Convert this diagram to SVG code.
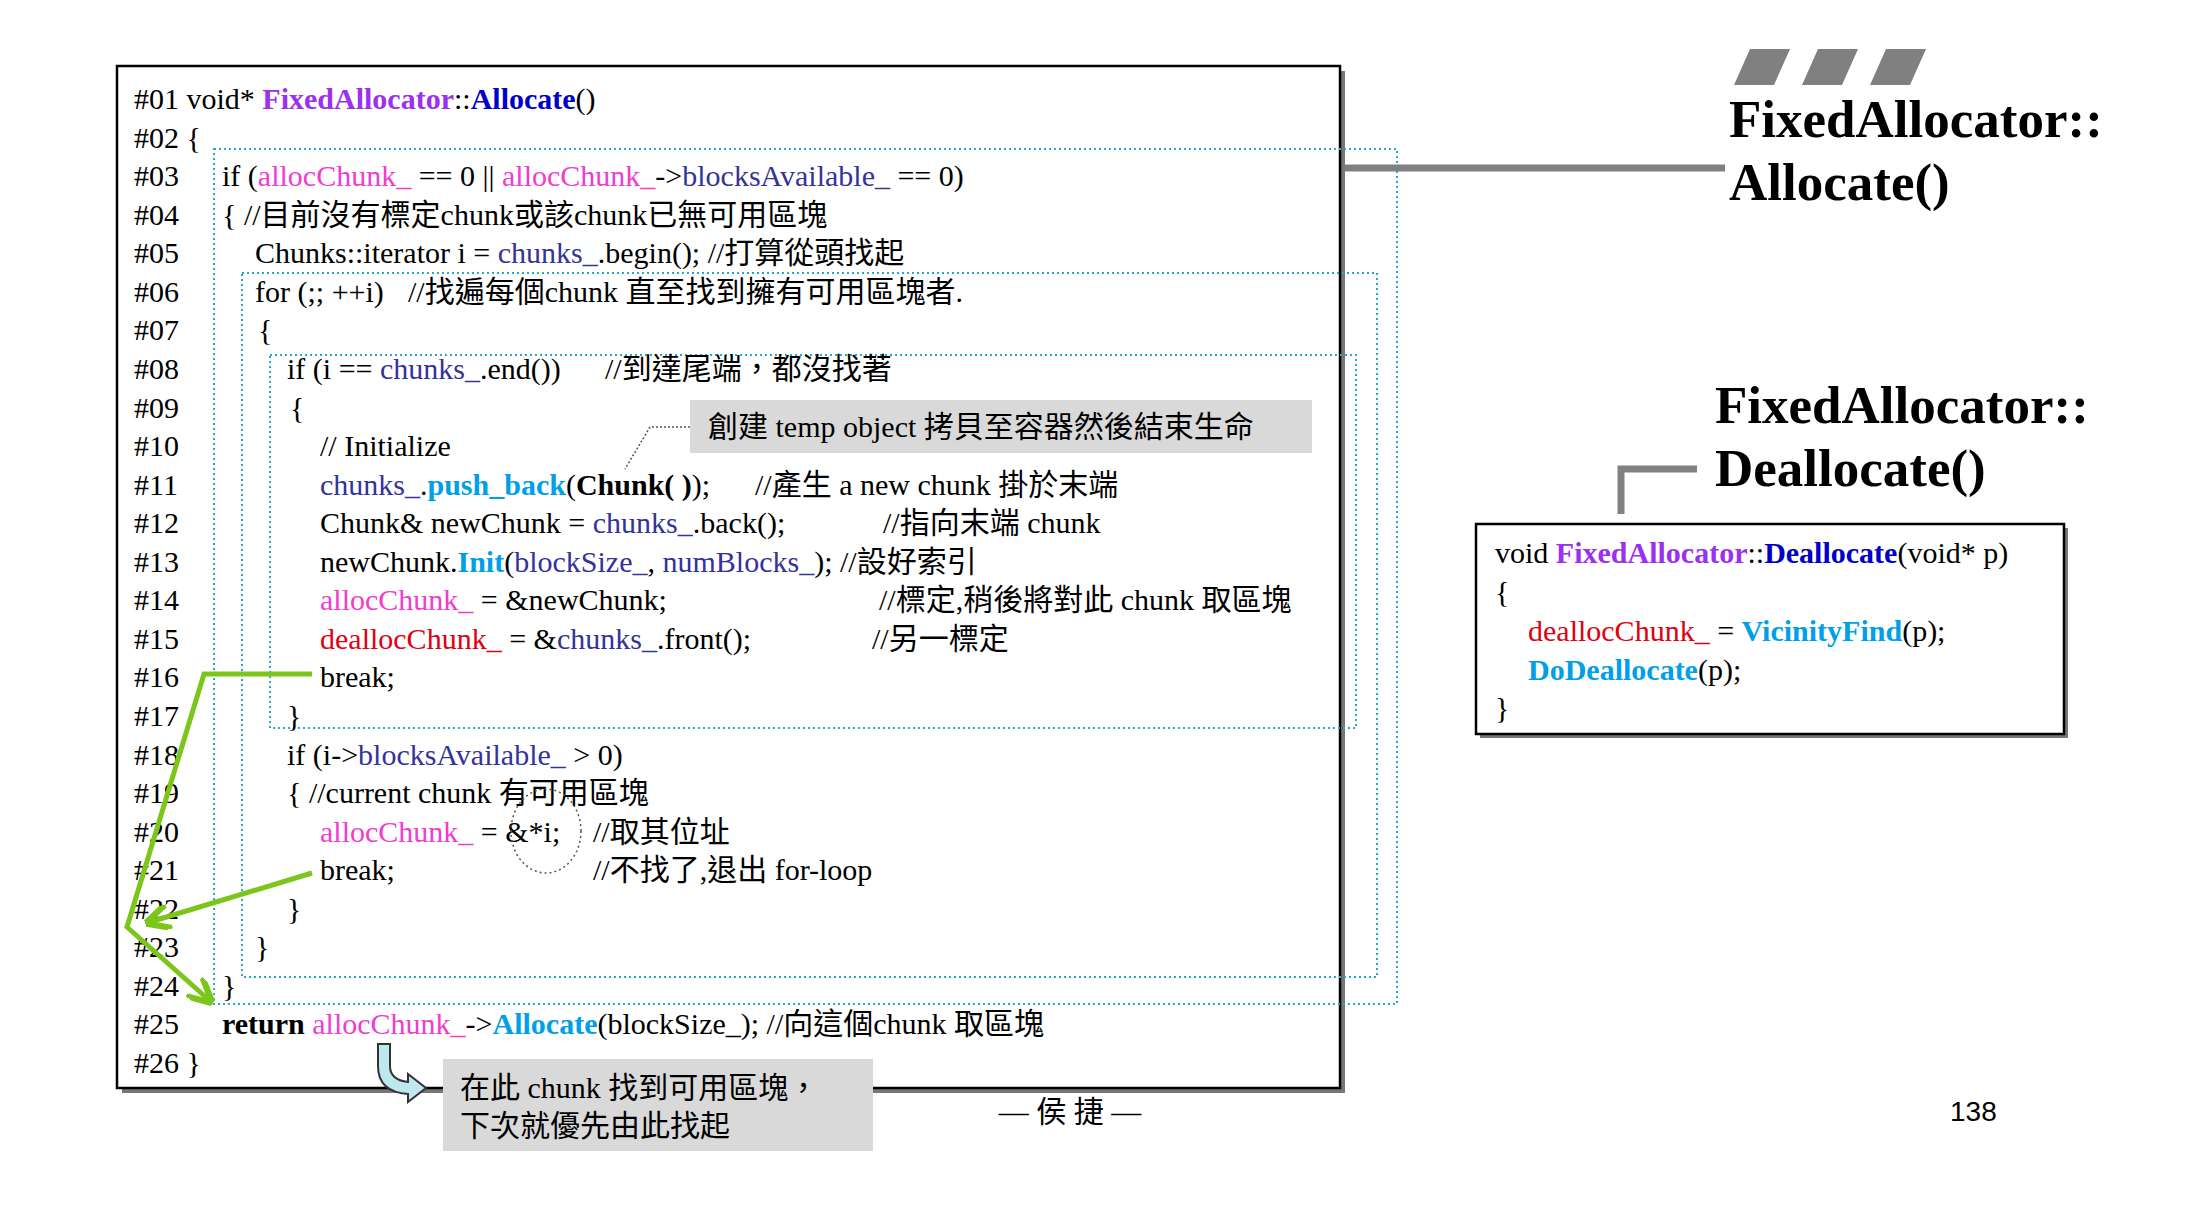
<svg xmlns="http://www.w3.org/2000/svg" width="2208" height="1210" viewBox="0 0 2208 1210">
<style>
text{font-family:"Liberation Serif","Noto Sans CJK TC",serif;font-size:30px;fill:#000}
.p{fill:#9B30F0;font-weight:bold}.b{fill:#0000C8;font-weight:bold}.m{fill:#F03CD0}.n{fill:#33339A}.c{fill:#00A0E8;font-weight:bold}.r{fill:#E00010}.k{font-weight:bold}
.t{font-weight:bold;font-size:53px}
.dot{fill:none;stroke:#2AA8C8;stroke-width:2;stroke-dasharray:2 3}
.g{fill:none;stroke:#7CC61C;stroke-width:5}
</style>
<defs><marker id="ga" viewBox="0 0 10 10" refX="8" refY="5" markerWidth="5" markerHeight="5" orient="auto"><path d="M0,0L10,5L0,10" fill="none" stroke="#7CC61C" stroke-width="2.5"/></marker></defs>
<g id="main">
<rect x="122" y="71" width="1223" height="1022" fill="#777"/>
<rect x="117" y="66" width="1223" height="1022" fill="#fff" stroke="#000" stroke-width="2.5"/>
<rect class="dot" x="214" y="149" width="1183" height="855"/>
<rect class="dot" x="242" y="273" width="1135" height="704"/>
<rect class="dot" x="270" y="355" width="1086" height="373"/>
<text x="134" y="109">#01 void* <tspan class="p">FixedAllocator</tspan>::<tspan class="b">Allocate</tspan>()</text>
<text x="134" y="147.6">#02 {</text>
<text x="134" y="186.1">#03</text><text x="222" y="186.1">if (<tspan class="m">allocChunk_</tspan> == 0 || <tspan class="m">allocChunk_</tspan>-&gt;<tspan class="n">blocksAvailable_</tspan> == 0)</text>
<text x="134" y="224.7">#04</text><text x="222" y="224.7">{  //目前沒有標定chunk或該chunk已無可用區塊</text>
<text x="134" y="263.2">#05</text><text x="255" y="263.2">Chunks::iterator i = <tspan class="n">chunks_</tspan>.begin();  //打算從頭找起</text>
<text x="134" y="301.8">#06</text><text x="255" y="301.8">for (;; ++i)</text><text x="408" y="301.8">//找遍每個chunk 直至找到擁有可用區塊者.</text>
<text x="134" y="340.4">#07</text><text x="258" y="340.4">{</text>
<text x="134" y="378.9">#08</text><text x="287" y="378.9">if (i == <tspan class="n">chunks_</tspan>.end())</text><text x="605" y="378.9">//到達尾端，都沒找著</text>
<text x="134" y="417.5">#09</text><text x="290" y="417.5">{</text>
<text x="134" y="456">#10</text><text x="320" y="456">// Initialize</text>
<text x="134" y="494.6">#11</text><text x="320" y="494.6"><tspan class="n">chunks_</tspan>.<tspan class="c">push_back</tspan>(<tspan class="k">Chunk( )</tspan>);</text><text x="755" y="494.6">//產生 a new chunk 掛於末端</text>
<text x="134" y="533.2">#12</text><text x="320" y="533.2">Chunk&amp; newChunk = <tspan class="n">chunks_</tspan>.back();</text><text x="883" y="533.2">//指向末端 chunk</text>
<text x="134" y="571.7">#13</text><text x="320" y="571.7">newChunk.<tspan class="c">Init</tspan>(<tspan class="n">blockSize_</tspan>, <tspan class="n">numBlocks_</tspan>); //設好索引</text>
<text x="134" y="610.3">#14</text><text x="320" y="610.3"><tspan class="m">allocChunk_</tspan> = &amp;newChunk;</text><text x="879" y="610.3">//標定,稍後將對此 chunk 取區塊</text>
<text x="134" y="648.8">#15</text><text x="320" y="648.8"><tspan class="r">deallocChunk_</tspan> = &amp;<tspan class="n">chunks_</tspan>.front();</text><text x="872" y="648.8">//另一標定</text>
<text x="134" y="687.4">#16</text><text x="320" y="687.4">break;</text>
<text x="134" y="726">#17</text><text x="287" y="726">}</text>
<text x="134" y="764.5">#18</text><text x="287" y="764.5">if (i-&gt;<tspan class="n">blocksAvailable_</tspan> &gt; 0)</text>
<text x="134" y="803.1">#19</text><text x="287" y="803.1">{  //current chunk 有可用區塊</text>
<text x="134" y="841.6">#20</text><text x="320" y="841.6"><tspan class="m">allocChunk_</tspan> = &amp;*i;</text><text x="593" y="841.6">//取其位址</text>
<text x="134" y="880.2">#21</text><text x="320" y="880.2">break;</text><text x="593" y="880.2">//不找了,退出 for-loop</text>
<text x="134" y="918.8">#22</text><text x="287" y="918.8">}</text>
<text x="134" y="957.3">#23</text><text x="255" y="957.3">}</text>
<text x="134" y="995.9">#24</text><text x="222" y="995.9">}</text>
<text x="134" y="1034.4">#25</text><text x="222" y="1034.4"><tspan class="k">return</tspan> <tspan class="m">allocChunk_</tspan>-&gt;<tspan class="c">Allocate</tspan>(blockSize_); //向這個chunk 取區塊</text>
<text x="134" y="1073">#26 }</text>
<ellipse cx="546" cy="831" rx="35" ry="42" fill="none" stroke="#555" stroke-width="1.5" stroke-dasharray="2 3"/>
</g>
<g id="callout1">
<rect x="690" y="400" width="622" height="53" fill="#D9D9D9"/>
<text x="708" y="437">創建 temp object 拷貝至容器然後結束生命</text>
</g>
<g id="callout2">
<rect x="443" y="1059" width="430" height="92" fill="#D9D9D9"/>
<text x="460" y="1098">在此 chunk 找到可用區塊，</text>
<text x="460" y="1136">下次就優先由此找起</text>
</g>
<g id="titleA">
<path d="M1750,49h40l-16,36h-40zM1818,49h40l-16,36h-40zM1886,49h40l-16,36h-40z" fill="#808080"/>
<text class="t" x="1729" y="137">FixedAllocator::</text>
<text class="t" x="1729" y="200">Allocate()</text>
</g>
<g id="titleD">
<text class="t" x="1715" y="423">FixedAllocator::</text>
<text class="t" x="1715" y="486">Deallocate()</text>
</g>
<g id="dealloc">
<rect x="1480" y="528" width="588" height="210" fill="#777"/>
<rect x="1476" y="524" width="588" height="210" fill="#fff" stroke="#000" stroke-width="2.5"/>
<text x="1495" y="563">void <tspan class="p">FixedAllocator</tspan>::<tspan class="b">Deallocate</tspan>(void* p)</text>
<text x="1495" y="602">{</text>
<text x="1528" y="641"><tspan class="r">deallocChunk_</tspan>  = <tspan class="c">VicinityFind</tspan>(p);</text>
<text x="1528" y="680"><tspan class="c">DoDeallocate</tspan>(p);</text>
<text x="1495" y="718">}</text>
</g>
<g id="connectors">
<path d="M1345,168H1725" stroke="#808080" stroke-width="7" fill="none"/>
<path d="M1621,514V469H1697" stroke="#808080" stroke-width="7" fill="none"/>
<path d="M690,427H650L625,469" stroke="#555" stroke-width="1.5" fill="none" stroke-dasharray="2 2"/>
<polyline class="g" points="312,674 204,674 127,927 209,1000" marker-end="url(#ga)"/>
<polyline class="g" points="312,873 150,922" marker-end="url(#ga)"/>
<path d="M378,1044h12v22q0,14 18,16v-8l18,14l-18,14v-8q-30,-2 -30,-28z" fill="#BFE8EE" stroke="#333" stroke-width="2"/>
</g>
<text x="1070" y="1122" text-anchor="middle">— 侯 捷 —</text>
<text x="1950" y="1121" style="font-family:'Liberation Sans',sans-serif;font-size:28px">138</text>
</svg>
